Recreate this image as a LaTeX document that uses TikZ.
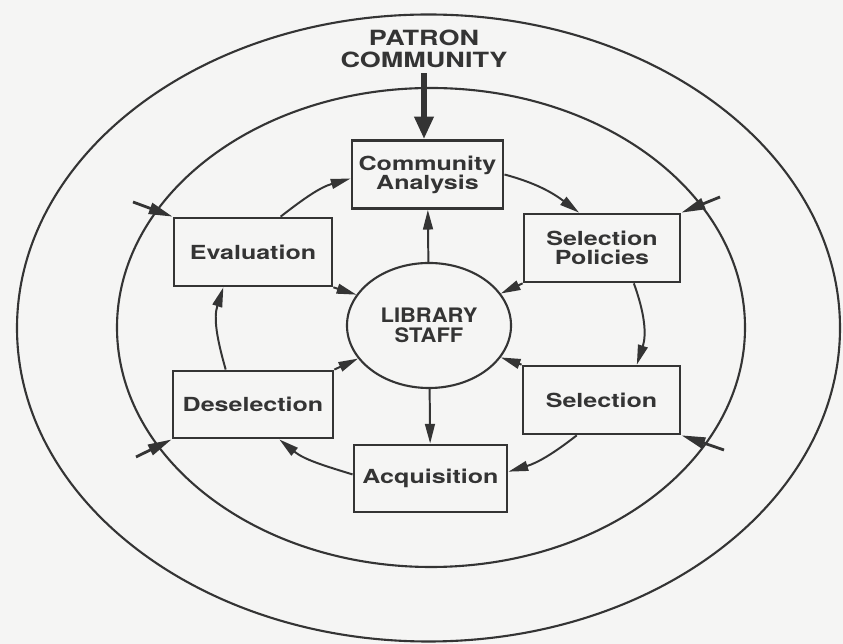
\documentclass[tikz,border=0pt]{standalone}
\usepackage{fontspec}
\setmainfont{TeX Gyre Heros}[FakeStretch=1.29]
\newfontfamily\staffface{TeX Gyre Heros}[FakeStretch=1.1]
\usepackage{xcolor}
\usepackage{tikz}
\usetikzlibrary{arrows.meta,shapes.geometric}
\definecolor{ink}{RGB}{52,52,52}
\definecolor{paper}{RGB}{245,245,244}

\begin{document}
\begin{tikzpicture}[x=0.025cm,y=0.025cm,
  >={Triangle[length=14pt,width=7pt]},
  every node/.style={text=ink},
  stage/.style={draw=ink,line width=1.9pt,fill=paper,minimum width=3.9cm,minimum height=1.7cm,
    align=center,inner sep=0pt,font=\bfseries\fontsize{13.8}{13.6}\selectfont},
  ring/.style={draw=ink,line width=1.4pt,->},
  inflow/.style={draw=ink,line width=2pt,-{Triangle[length=17pt,width=8pt]}}]
\fill[paper] (0,0) rectangle (843,644);
\useasboundingbox (0,0) rectangle (843,644);
\draw[ink,line width=1.5pt] (428.5,316) ellipse [x radius=411.5,y radius=313.5];
\draw[ink,line width=1.5pt] (431,316.5) ellipse [x radius=314,y radius=239.5];

\node[stage,minimum width=3.78cm] (analysis) at (427.5,469.5) {Community\\Analysis};
\node[stage,minimum width=3.95cm] (evaluation) at (253,392) {Evaluation};
\node[stage] (policies) at (602,396) {Selection\\Policies};
\node[stage,minimum width=4cm,minimum height=1.68cm] (deselection) at (253,239.5) {Deselection};
\node[stage,minimum width=3.93cm] (selection) at (601.5,244) {Selection};
\node[stage,minimum width=3.83cm,minimum height=1.68cm] (acquisition) at (430.5,165.5) {Acquisition};
\node[ellipse,draw=ink,line width=1.5pt,fill=paper,minimum width=4.1cm,minimum height=3.125cm,inner sep=0pt,
  align=center,font=\staffface\bfseries\fontsize{14.2}{14.7}\selectfont] (staff) at (429,318.5) {LIBRARY\\STAFF};
\node[align=center,inner sep=4pt,font=\bfseries\fontsize{14.9}{15.6}\selectfont] (patron) at (424,595.5) {PATRON\\COMMUNITY};

\draw[ink,line width=4.5pt,-{Triangle[length=16pt,width=13pt]}] (patron.south) -- (patron.south |- analysis.north);

\draw[ring] (analysis.east) to[out=-15,in=143] (policies.123);
\draw[ring] (policies.-48) to[out=-70,in=72] (selection.45);
\draw[ring] (selection.-125) to[out=-142,in=17] (acquisition.5);
\draw[ring] (acquisition.177) to[out=163,in=-39] (deselection.-53);
\draw[ring] (deselection.128) to[out=106,in=-108] (evaluation.-130);
\draw[ring] (evaluation.52) to[out=38,in=196] (analysis.183);

\draw[ring] (staff) -- (analysis);
\draw[ring] (staff) -- (acquisition);
\draw[ring] (evaluation.south east) -- (staff.157);
\draw[ring] (policies.south west) -- (staff.24);
\draw[ring] (selection.north west) -- (staff.-24);
\draw[ring] (deselection.north east) -- (staff.205);

\coordinate (nw) at (133,442);
\coordinate (ne) at (720,447);
\coordinate (sw) at (136,187);
\coordinate (se) at (724,194);
\draw[inflow] (nw) -- (evaluation.north west);
\draw[inflow] (ne) -- (policies.north east);
\draw[inflow] (sw) -- (deselection.south west);
\draw[inflow] (se) -- (selection.south east);
\end{tikzpicture}
\end{document}
